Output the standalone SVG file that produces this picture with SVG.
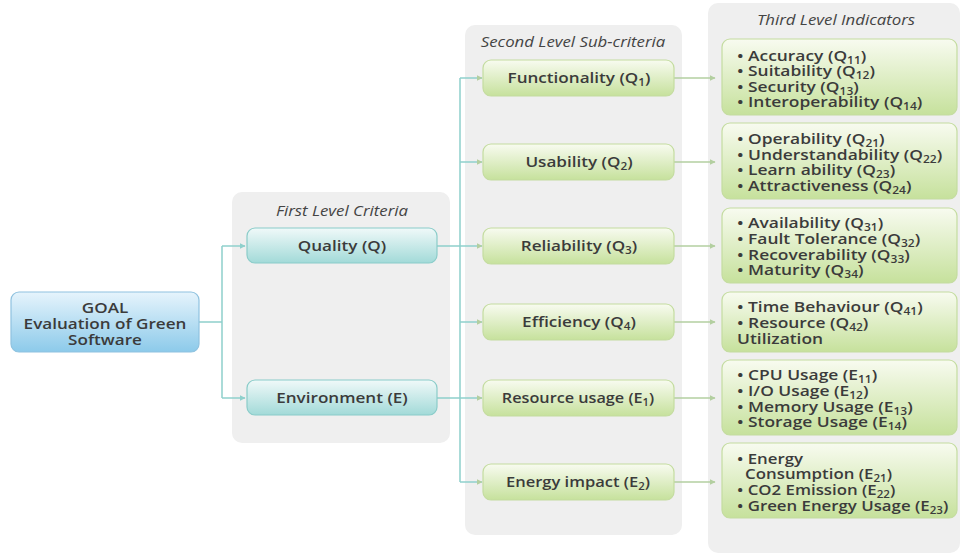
<svg xmlns="http://www.w3.org/2000/svg" width="961" height="554" viewBox="0 0 961 554">
<defs>
<linearGradient id="gBlue" x1="0" y1="0" x2="0" y2="1"><stop offset="0" stop-color="#e6f4fc"/><stop offset="1" stop-color="#8ccaea"/></linearGradient>
<linearGradient id="gTeal" x1="0" y1="0" x2="0" y2="1"><stop offset="0" stop-color="#f0f9f9"/><stop offset="1" stop-color="#a2dad8"/></linearGradient>
<linearGradient id="gGreen" x1="0" y1="0" x2="0" y2="1"><stop offset="0" stop-color="#f8fbf0"/><stop offset="1" stop-color="#c6e19c"/></linearGradient>
<marker id="aT" viewBox="0 0 10 10" refX="9" refY="5" markerWidth="6" markerHeight="6" orient="auto" markerUnits="userSpaceOnUse"><path d="M0,0 L10,5 L0,10 z" fill="#8fd0cc"/></marker>
<marker id="aG" viewBox="0 0 10 10" refX="9" refY="5" markerWidth="6" markerHeight="6" orient="auto" markerUnits="userSpaceOnUse"><path d="M0,0 L10,5 L0,10 z" fill="#b3cfa0"/></marker>
</defs>
<style>
.panel{fill:#efefef}
.t{font-family:"Open Sans","Noto Sans",sans-serif;font-size:14.5px;fill:#3b3b3b;font-weight:600}
.h{font-family:"Open Sans","Noto Sans",sans-serif;font-size:14px;fill:#444;font-style:italic;font-weight:500}
.c{text-anchor:middle}
.blue{fill:url(#gBlue);stroke:#8fc2df;stroke-width:1.2}
.teal{fill:url(#gTeal);stroke:#8accc9;stroke-width:1.2}
.green{fill:url(#gGreen);stroke:#c4dca0;stroke-width:1.2}
.lt{fill:none;stroke:#8fd0cc;stroke-width:1.5}
.lg{fill:none;stroke:#b3cfa0;stroke-width:1.5}
.s{font-size:10px}
</style>
<rect width="961" height="554" fill="#ffffff"/>
<g id="panels">
<rect class="panel" x="232" y="192" width="218" height="251" rx="10"/>
<rect class="panel" x="465" y="25" width="217" height="510" rx="10"/>
<rect class="panel" x="708" y="3" width="252" height="550" rx="10"/>
<text class="h c" transform="translate(342,216) scale(1.2,1)">First Level Criteria</text>
<text class="h c" transform="translate(573,47) scale(1.2,1)">Second Level Sub-criteria</text>
<text class="h c" transform="translate(836,25) scale(1.2,1)">Third Level Indicators</text>
</g>
<g id="connectors">
<path class="lt" d="M199,322 H222 M222,246 V398"/>
<path class="lt" d="M222,246 H245" marker-end="url(#aT)"/>
<path class="lt" d="M222,398 H245" marker-end="url(#aT)"/>
<path class="lt" d="M437,246 H460 M437,398 H460 M460,78 V482"/>
<path class="lt" d="M460,78 H482" marker-end="url(#aG)"/>
<path class="lt" d="M460,162 H482" marker-end="url(#aG)"/>
<path class="lt" d="M460,246 H482" marker-end="url(#aG)"/>
<path class="lt" d="M460,322 H482" marker-end="url(#aG)"/>
<path class="lt" d="M460,398 H482" marker-end="url(#aG)"/>
<path class="lt" d="M460,482 H482" marker-end="url(#aG)"/>
<path class="lg" d="M674,78 H715" marker-end="url(#aG)"/>
<path class="lg" d="M674,162 H715" marker-end="url(#aG)"/>
<path class="lg" d="M674,246 H715" marker-end="url(#aG)"/>
<path class="lg" d="M674,322 H715" marker-end="url(#aG)"/>
<path class="lg" d="M674,398 H715" marker-end="url(#aG)"/>
<path class="lg" d="M674,482 H715" marker-end="url(#aG)"/>
</g>
<g id="goal">
<rect class="blue" x="11" y="292" width="188" height="60" rx="8"/>
<text class="t c" transform="translate(105,313) scale(1.18,1)" font-weight="700">GOAL</text>
<text class="t c" transform="translate(105,329) scale(1.18,1)">Evaluation of Green</text>
<text class="t c" transform="translate(105,345) scale(1.18,1)">Software</text>
</g>
<g id="quality">
<rect class="teal" x="247" y="228" width="190" height="35" rx="8"/>
<text class="t c" transform="translate(342,251) scale(1.18,1)">Quality (Q)</text>
</g>
<g id="environment">
<rect class="teal" x="247" y="380" width="190" height="35" rx="8"/>
<text class="t c" transform="translate(342,403) scale(1.18,1)">Environment (E)</text>
</g>
<g id="functionality">
<rect class="green" x="483" y="60" width="191" height="36" rx="8"/>
<text class="t c" transform="translate(579,83) scale(1.18,1)">Functionality (Q<tspan class="s" dy="3">1</tspan><tspan dy="-3">)</tspan></text>
</g>
<g id="usability">
<rect class="green" x="483" y="144" width="191" height="36" rx="8"/>
<text class="t c" transform="translate(579,167) scale(1.18,1)">Usability (Q<tspan class="s" dy="3">2</tspan><tspan dy="-3">)</tspan></text>
</g>
<g id="reliability">
<rect class="green" x="483" y="228" width="191" height="36" rx="8"/>
<text class="t c" transform="translate(579,251) scale(1.18,1)">Reliability (Q<tspan class="s" dy="3">3</tspan><tspan dy="-3">)</tspan></text>
</g>
<g id="efficiency">
<rect class="green" x="483" y="304" width="191" height="36" rx="8"/>
<text class="t c" transform="translate(579,327) scale(1.18,1)">Efficiency (Q<tspan class="s" dy="3">4</tspan><tspan dy="-3">)</tspan></text>
</g>
<g id="resource-usage">
<rect class="green" x="483" y="380" width="191" height="36" rx="8"/>
<text class="t c" transform="translate(578,403) scale(1.12,1)">Resource usage (E<tspan class="s" dy="3">1</tspan><tspan dy="-3">)</tspan></text>
</g>
<g id="energy-impact">
<rect class="green" x="483" y="464" width="191" height="36" rx="8"/>
<text class="t c" transform="translate(578,487) scale(1.14,1)">Energy impact (E<tspan class="s" dy="3">2</tspan><tspan dy="-3">)</tspan></text>
</g>
<g id="ind-functionality">
<rect class="green" x="722" y="39" width="235" height="76" rx="8"/>
<g transform="translate(737,0) scale(1.2,1)">
<text class="t" x="0" y="61">• Accuracy (Q<tspan class="s" dy="3">11</tspan><tspan dy="-3">)</tspan></text>
<text class="t" x="0" y="76.5">• Suitability (Q<tspan class="s" dy="3">12</tspan><tspan dy="-3">)</tspan></text>
<text class="t" x="0" y="92">• Security (Q<tspan class="s" dy="3">13</tspan><tspan dy="-3">)</tspan></text>
<text class="t" x="0" y="107.5">• Interoperability (Q<tspan class="s" dy="3">14</tspan><tspan dy="-3">)</tspan></text>
</g>
</g>
<g id="ind-usability">
<rect class="green" x="722" y="123" width="235" height="76" rx="8"/>
<g transform="translate(737,0) scale(1.2,1)">
<text class="t" x="0" y="144">• Operability (Q<tspan class="s" dy="3">21</tspan><tspan dy="-3">)</tspan></text>
<text class="t" x="0" y="160">• Understandability (Q<tspan class="s" dy="3">22</tspan><tspan dy="-3">)</tspan></text>
<text class="t" x="0" y="175">• Learn ability (Q<tspan class="s" dy="3">23</tspan><tspan dy="-3">)</tspan></text>
<text class="t" x="0" y="191">• Attractiveness (Q<tspan class="s" dy="3">24</tspan><tspan dy="-3">)</tspan></text>
</g>
</g>
<g id="ind-reliability">
<rect class="green" x="722" y="208" width="235" height="75" rx="8"/>
<g transform="translate(737,0) scale(1.2,1)">
<text class="t" x="0" y="228">• Availability (Q<tspan class="s" dy="3">31</tspan><tspan dy="-3">)</tspan></text>
<text class="t" x="0" y="244">• Fault Tolerance (Q<tspan class="s" dy="3">32</tspan><tspan dy="-3">)</tspan></text>
<text class="t" x="0" y="260">• Recoverability (Q<tspan class="s" dy="3">33</tspan><tspan dy="-3">)</tspan></text>
<text class="t" x="0" y="275">• Maturity (Q<tspan class="s" dy="3">34</tspan><tspan dy="-3">)</tspan></text>
</g>
</g>
<g id="ind-efficiency">
<rect class="green" x="722" y="292" width="235" height="60" rx="8"/>
<g transform="translate(737,0) scale(1.2,1)">
<text class="t" x="0" y="312">• Time Behaviour (Q<tspan class="s" dy="3">41</tspan><tspan dy="-3">)</tspan></text>
<text class="t" x="0" y="328">• Resource (Q<tspan class="s" dy="3">42</tspan><tspan dy="-3">)</tspan></text>
<text class="t" x="0" y="344">Utilization</text>
</g>
</g>
<g id="ind-resource-usage">
<rect class="green" x="722" y="360" width="235" height="75" rx="8"/>
<g transform="translate(737,0) scale(1.2,1)">
<text class="t" x="0" y="380">• CPU Usage (E<tspan class="s" dy="3">11</tspan><tspan dy="-3">)</tspan></text>
<text class="t" x="0" y="396">• I/O Usage (E<tspan class="s" dy="3">12</tspan><tspan dy="-3">)</tspan></text>
<text class="t" x="0" y="412">• Memory Usage (E<tspan class="s" dy="3">13</tspan><tspan dy="-3">)</tspan></text>
<text class="t" x="0" y="427">• Storage Usage (E<tspan class="s" dy="3">14</tspan><tspan dy="-3">)</tspan></text>
</g>
</g>
<g id="ind-energy-impact">
<rect class="green" x="722" y="443" width="235" height="75" rx="8"/>
<g transform="translate(737,0) scale(1.16,1)">
<text class="t" x="0" y="464">• Energy</text>
<text class="t" x="7" y="479">Consumption (E<tspan class="s" dy="3">21</tspan><tspan dy="-3">)</tspan></text>
<text class="t" x="0" y="495">• CO2 Emission (E<tspan class="s" dy="3">22</tspan><tspan dy="-3">)</tspan></text>
<text class="t" x="0" y="511">• Green Energy Usage (E<tspan class="s" dy="3">23</tspan><tspan dy="-3">)</tspan></text>
</g>
</g>
</svg>
